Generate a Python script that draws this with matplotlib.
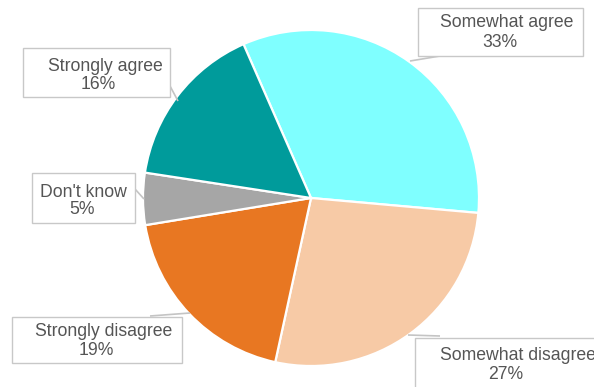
import matplotlib
matplotlib.use("Agg")
import matplotlib.pyplot as plt
from matplotlib.patches import Rectangle

# ---- data ----
labels = ["Somewhat agree", "Somewhat disagree", "Strongly disagree", "Don't know", "Strongly agree"]
values = [33, 27, 19, 5, 16]
colors = ["#7fffff", "#f7caa6", "#e87722", "#a6a6a6", "#009b9b"]

# ---- layout (pixel coordinates, y downwards) ----
W, H = 594, 387
center = (311, 198)
radius = 168

# box (x0, y0, w, h), line1 (x, baseline), line2 (x, baseline), leader (x1, y1, x2, y2)
boxes = [(418, 8, 165, 48), (415, 338, 200, 60), (12, 317, 170, 46), (32, 173, 103, 50), (23, 48, 147, 49)]
line1 = [(507, 27), (518, 360), (104, 336), (83, 197), (105, 71)]
line2 = [(500, 47), (506, 379), (96, 355), (82, 214), (98, 89)]
leaders = [((410, 61), (446, 55)), ((408, 335), (440, 336)), ((190, 313), (150, 316)),
           ((144, 199), (135, 189)), ((178, 101), (170, 86))]

fig = plt.figure(figsize=(W / 100, H / 100), dpi=100)
ax = fig.add_axes([0, 0, 1, 1])
ax.pie(values, colors=colors, center=center, radius=radius, startangle=246.3,
       counterclock=True, wedgeprops=dict(edgecolor="white", linewidth=1.6))
ax.set_xlim(0, W)
ax.set_ylim(H, 0)
ax.axis("off")

font = dict(family=["Liberation Sans", "DejaVu Sans"], size=12.7, color="#555555")
for lab, v, b, l1, l2, ld in zip(labels, values, boxes, line1, line2, leaders):
    (xa, ya), (xb, yb) = ld
    ax.plot([xa, xb], [ya, yb], color="#c4c4c4", lw=1.2, solid_capstyle="butt", zorder=3)
    ax.add_patch(Rectangle((b[0], b[1]), b[2], b[3], facecolor="white",
                           edgecolor="#c8c8c8", lw=1.0, zorder=4))
    ax.text(l1[0], l1[1], lab, ha="center", va="baseline", zorder=5, **font)
    ax.text(l2[0], l2[1], f"{v}%", ha="center", va="baseline", zorder=5, **font)

fig.savefig("out.png", dpi=100)
